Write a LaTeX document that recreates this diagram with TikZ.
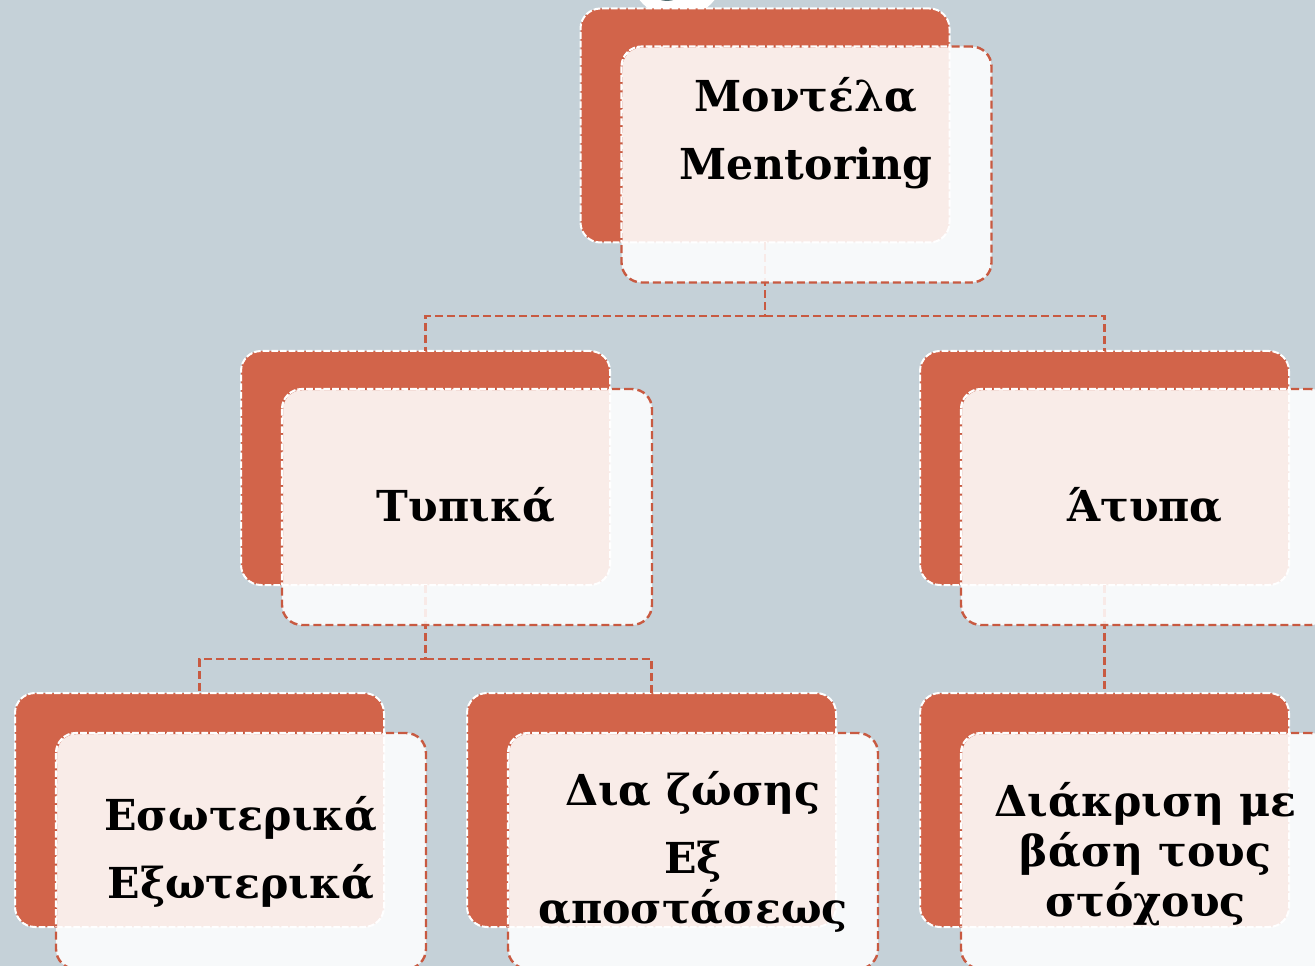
\documentclass[tikz,border=0pt]{standalone}
\usepackage{fontspec}
\setmainfont{DejaVu Serif}
\definecolor{bgc}{HTML}{C5D1D8}
\definecolor{boxorange}{HTML}{D2644A}
\definecolor{lineorange}{HTML}{C85A41}
\definecolor{darkteal}{HTML}{4F6B6E}
\tikzset{
  backbox/.style={rectangle, rounded corners=15pt, fill=boxorange, draw=white, line width=1.5pt,
    dash pattern=on 5pt off 1.5pt, minimum width=276.75pt, minimum height=175.5pt, inner sep=0pt, outer sep=0pt},
  frontbox/.style={rectangle, rounded corners=15pt, fill=white, fill opacity=0.88, draw=lineorange, draw opacity=1,
    line width=1.8pt, dash pattern=on 6pt off 3pt, minimum width=277.5pt, minimum height=177pt, inner sep=0pt, outer sep=0pt},
  frontwhite/.style={draw=white, line width=1.6pt, dash pattern=on 5pt off 1.5pt, rounded corners=15pt},
  conn/.style={draw=lineorange, line width=1.8pt, dash pattern=on 6pt off 3pt},
  txt/.style={font=\bfseries\fontsize{32}{37.5}\selectfont, align=center, text=black, inner sep=0pt},
}
\begin{document}
\begin{tikzpicture}[x=0.75pt,y=-0.75pt]
\useasboundingbox (0,0) rectangle (1315,966);
\clip (0,0) rectangle (1315,966);
\fill[bgc] (0,0) rectangle (1315,966);
% partly visible decoration at top
\fill[white] (677,-30) circle[radius=48];
\fill[darkteal] (667,-20) circle[radius=21];
% back boxes
\node[backbox] (mB) at (765,125.5) {};
\node[backbox] (tB) at (425.5,468) {};
\node[backbox] (aB) at (1104.5,468) {};
\node[backbox] (eB) at (199.5,810) {};
\node[backbox] (dB) at (651.5,810) {};
\node[backbox] (kB) at (1104.5,810) {};
% connectors
\coordinate (j1) at (765,316);
\coordinate (j2) at (425.5,659);
\draw[conn] (mB.south) -- (j1) -| (tB.north);
\draw[conn] (j1) -| (aB.north);
\draw[conn] (tB.south) -- (j2) -| (eB.north);
\draw[conn] (j2) -| (dB.north);
\draw[conn] (aB.south) -- (kB.north);
% front boxes
\node[frontbox] (m) at (806.5,164.5) {};
\node[frontbox] (t) at (467,507) {};
\node[frontbox] (a) at (1146,507) {};
\node[frontbox] (e) at (241,851) {};
\node[frontbox] (d) at (693,851) {};
\node[frontbox] (k) at (1146,851) {};
% front borders shown white where they lie over the back boxes
\foreach \f/\b in {m/mB, t/tB, a/aB, e/eB, d/dB, k/kB}{
  \begin{scope}
    \clip[rounded corners=15pt] (\b.north west) rectangle (\b.south east);
    \draw[frontwhite] (\f.north west) rectangle (\f.south east);
  \end{scope}
}
% texts
\node[txt] (tm) at (806,133) {Μοντέλα\\[13.5pt]Mentoring};
\node[txt] (tt) at (466,505) {Τυπικά};
\node[txt] (ta) at (1145,505) {Άτυπα};
\node[txt] (te) at (241,852) {Εσωτερικά\\[13.5pt]Εξωτερικά};
\node[txt] (td) at (693,851.5) {Δια ζώσης\\[13.5pt]Εξ\\αποστάσεως};
\node[txt] (tk) at (1145.5,854.5) {Διάκριση με\\βάση τους\\στόχους};
\end{tikzpicture}
\end{document}
